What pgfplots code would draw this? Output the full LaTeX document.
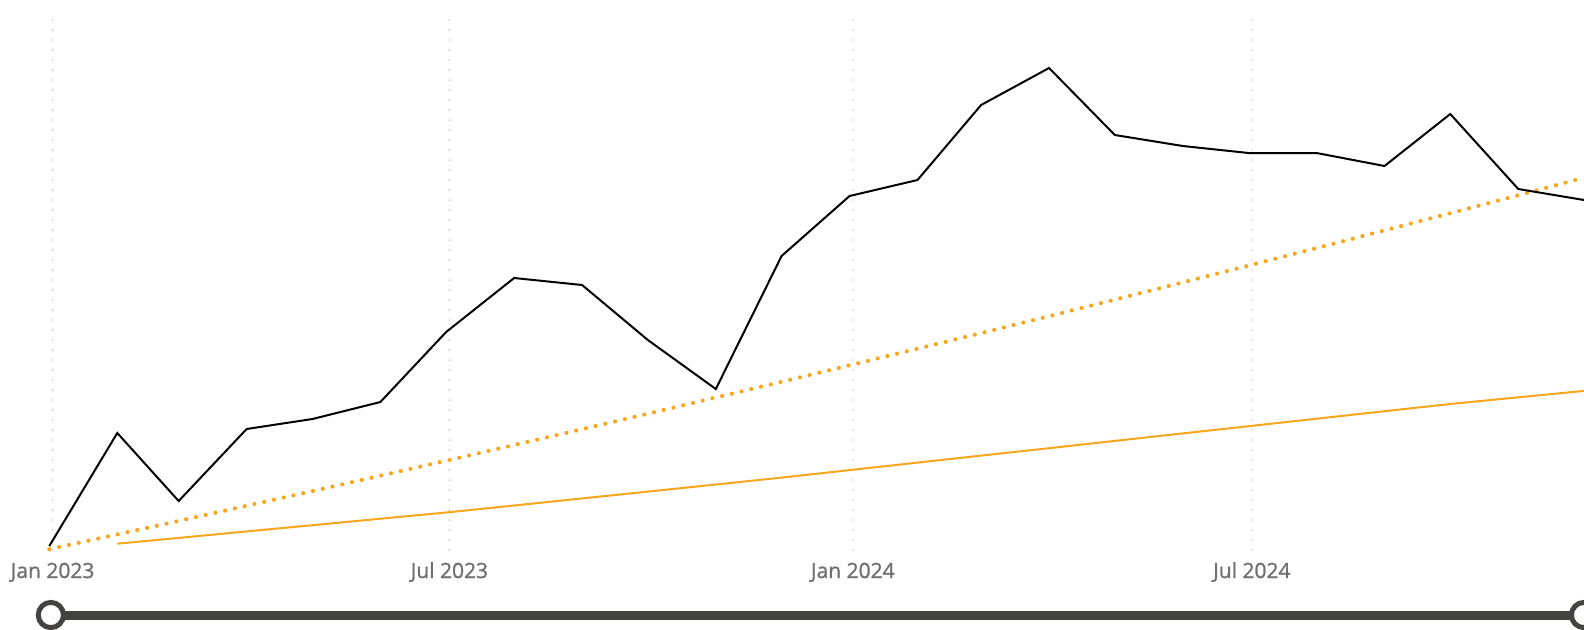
\documentclass[border=0pt]{standalone}
\usepackage{pgfplots}
\pgfplotsset{compat=1.18}
\usepackage{pgfplotstable}
\usepackage{fontspec}
\setmainfont{Open Sans}
\newfontfamily\labelfont{Open Sans}[FakeBold=1.2]
\definecolor{trendorange}{RGB}{247,166,30}
\definecolor{labelgray}{RGB}{112,112,112}
\definecolor{slidergray}{RGB}{69,67,66}
\definecolor{gridgray}{RGB}{185,185,185}

% d = days since 1 Jan 2023, values in chart units
\pgfplotstableread{
d    val   trend
0    4     0.8
31   117   15.6
59   49    29.1
90   121   44.2
120  131   58.9
151  148   74.3
181  218   89.3
212  272   105.0
243  265   120.8
273  210   136.3
304  161   152.5
334  294   168.2
365  354   184.7
396  370   201.3
425  445   216.9
456  482   233.8
486  415   250.4
517  404   267.6
547  397   284.4
578  397   301.9
609  384   319.6
639  436   336.8
670  361   354.7
700  350   372.3
}\maindata

\pgfplotstableread{
d    avg
31   6.3
59   12.1
90   18.6
120  24.8
151  31.3
181  37.5
212  44.5
243  51.6
273  58.4
304  65.5
334  72.4
365  79.9
396  87.4
425  94.4
456  101.8
486  109.1
517  116.6
547  123.8
578  131.3
609  138.8
639  146.0
670  152.7
700  159.1
}\avgdata

\begin{document}
\begin{tikzpicture}
\begin{axis}[
  name=ax,
  scale only axis,
  width=792pt, height=265pt,
  xmin=-22.5, xmax=700,
  ymin=0, ymax=530,
  axis line style={draw=none},
  tick style={draw=none},
  major tick length=0pt,
  ytick=\empty,
  xtick={1.5,182.5,366.5,548.5},
  xticklabels={Jan 2023,Jul 2023,Jan 2024,Jul 2024},
  xticklabel style={anchor=base, yshift=-14pt, font=\labelfont\fontsize{10.5}{12}\selectfont, text=labelgray},
  xmajorgrids,
  grid style={color=gridgray, line width=0.8pt, line cap=round, dash pattern=on 0pt off 5pt},
  clip=false,
]
% slider
\draw[line width=4.5pt, color=slidergray] (axis cs:0.7,-65) -- (axis cs:700,-65);
\draw[line width=2.5pt, color=slidergray, fill=white] (axis cs:0.7,-65) circle[radius=6.3pt];
\draw[line width=2.5pt, color=slidergray, fill=white] (axis cs:700,-65) circle[radius=6.3pt];
% series
\addplot[trendorange, line width=1pt, line join=round] table[x=d, y=avg] {\avgdata};
\addplot[trendorange, line width=2.1pt, line cap=round, dash pattern=on 0pt off 5pt] table[x=d, y=trend] {\maindata};
\addplot[black, line width=1pt, line join=miter] table[x=d, y=val] {\maindata};
\end{axis}
\pgfresetboundingbox
\path[use as bounding box] ([yshift=-39.5pt]ax.south west) rectangle ([yshift=10pt]ax.north east);
\end{tikzpicture}
\end{document}
